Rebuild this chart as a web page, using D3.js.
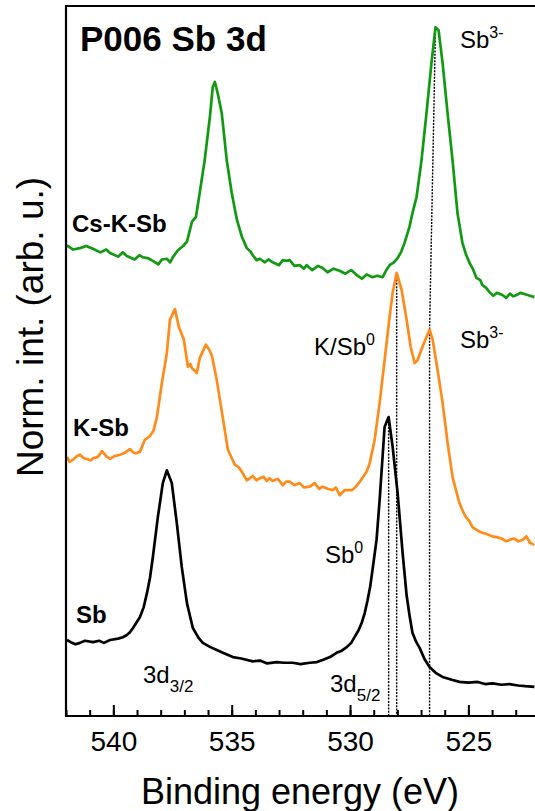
<!DOCTYPE html>
<html>
<head>
<meta charset="utf-8">
<script src="https://cdn.jsdelivr.net/npm/d3@7"></script>
<style>
  body { margin: 0; background: #fff; }
  svg { display: block; font-family: Arial, "Liberation Sans", sans-serif; }
</style>
</head>
<body>
<svg id="chart" width="535" height="811"></svg>
<script>
// Sb 3d spectra, binding energy (eV) vs normalized intensity (arb. u.), offset for clarity
const csKSb = [
  [541.96, 66.3], [541.7, 65.7], [541.41, 65.9], [541.15, 66.2], [540.86, 65.8], [540.55, 65.3],
  [540.3, 65.7], [540.14, 65.2], [539.8, 64.7], [539.6, 65.3], [539.43, 64.8], [539.1, 64.3],
  [538.9, 64.9], [538.75, 64.6], [538.55, 64.5], [538.33, 64.1], [538.1, 63.6], [537.95, 64.3],
  [537.74, 64.4], [537.6, 63.9], [537.49, 64.6], [537.27, 65.6], [537.05, 66.2], [536.89, 66.8],
  [536.68, 69.6], [536.51, 70.3], [536.35, 73.7], [536.14, 78.3], [535.92, 84.4], [535.8, 88.6],
  [535.71, 89.3], [535.59, 87.7], [535.42, 84.9], [535.21, 78.3], [535.0, 73.7], [534.78, 69.9],
  [534.57, 67.5], [534.36, 65.9], [534.2, 65.4], [534.11, 64.9], [533.95, 64.2], [533.81, 64.4],
  [533.6, 63.9], [533.45, 64.3], [533.27, 63.9], [533.0, 63.5], [532.84, 64.2], [532.68, 64.1],
  [532.55, 64.2], [532.35, 63.4], [532.13, 63.5], [531.95, 63.0], [531.83, 63.5], [531.6, 62.8],
  [531.35, 63.4], [531.16, 63.1], [530.95, 62.5], [530.7, 63.0], [530.44, 62.7], [530.2, 62.3],
  [529.95, 62.8], [529.72, 62.1], [529.5, 61.6], [529.3, 62.2], [529.05, 61.8], [528.85, 62.0],
  [528.62, 61.8], [528.45, 62.9], [528.33, 63.5], [528.15, 63.9], [527.99, 64.5], [527.85, 65.3],
  [527.7, 66.6], [527.49, 68.9], [527.35, 71.0], [527.19, 73.1], [526.98, 78.3], [526.77, 84.9],
  [526.56, 92.0], [526.39, 97.0], [526.26, 96.6], [526.09, 92.0], [525.88, 84.9], [525.67, 78.3],
  [525.46, 70.8], [525.25, 66.6], [525.1, 65.0], [524.95, 63.8], [524.8, 62.9], [524.66, 61.7],
  [524.5, 61.4], [524.41, 60.7], [524.25, 60.3], [524.11, 59.7], [523.95, 59.2], [523.8, 59.6],
  [523.56, 59.3], [523.4, 58.9], [523.25, 59.5], [523.1, 59.1], [522.97, 59.3], [522.8, 59.6],
  [522.6, 59.4], [522.4, 59.2], [522.21, 59.0]
];

const kSb = [
  [541.96, 36.5], [541.85, 35.8], [541.7, 36.1], [541.55, 36.6], [541.41, 36.8], [541.25, 36.3],
  [541.11, 36.2], [540.95, 36.0], [540.86, 36.3], [540.65, 36.5], [540.48, 37.3], [540.3, 36.6],
  [540.14, 36.2], [539.95, 36.6], [539.72, 36.8], [539.55, 37.0], [539.3, 37.6], [539.15, 37.1],
  [539.05, 37.0], [538.88, 37.2], [538.67, 38.9], [538.46, 39.4], [538.3, 40.2], [538.16, 42.1],
  [537.95, 46.9], [537.74, 51.1], [537.61, 55.8], [537.4, 57.3], [537.23, 54.8], [537.02, 53.0],
  [536.85, 49.2], [536.75, 49.6], [536.68, 49.0], [536.47, 48.3], [536.35, 50.4], [536.09, 52.3],
  [535.95, 51.6], [535.84, 50.8], [535.63, 47.3], [535.38, 42.1], [535.16, 37.5], [534.87, 35.4],
  [534.72, 35.1], [534.57, 34.4], [534.45, 33.7], [534.36, 33.2], [534.11, 33.8], [533.95, 33.2],
  [533.81, 33.5], [533.65, 33.7], [533.52, 33.1], [533.4, 33.5], [533.27, 33.1], [533.05, 33.4],
  [532.84, 32.5], [532.7, 33.0], [532.55, 33.0], [532.35, 32.5], [532.13, 32.8], [531.95, 32.2],
  [531.7, 32.3], [531.5, 32.8], [531.3, 32.0], [531.16, 32.3], [530.95, 32.0], [530.73, 31.8],
  [530.6, 32.2], [530.44, 31.1], [530.23, 31.8], [529.93, 31.8], [529.75, 32.3], [529.59, 33.0],
  [529.3, 34.4], [529.17, 35.6], [528.96, 38.9], [528.75, 44.1], [528.54, 50.1], [528.33, 56.2],
  [528.2, 59.6], [528.03, 62.4], [527.82, 60.0], [527.61, 55.8], [527.44, 52.0], [527.27, 49.7],
  [527.15, 50.1], [526.94, 52.0], [526.73, 53.7], [526.64, 54.4], [526.51, 53.0], [526.3, 48.7],
  [526.09, 44.1], [525.88, 38.5], [525.67, 33.7], [525.5, 31.5], [525.38, 30.0], [525.2, 28.6],
  [525.08, 27.9], [524.95, 27.4], [524.83, 26.6], [524.6, 26.1], [524.41, 25.8], [524.2, 25.6],
  [524.0, 25.3], [523.81, 25.2], [523.6, 25.0], [523.4, 24.6], [523.27, 24.8], [523.05, 25.0],
  [522.9, 24.6], [522.72, 24.8], [522.55, 25.3], [522.4, 24.4], [522.21, 24.1]
];

const sb = [
  [541.96, 10.7], [541.8, 10.4], [541.6, 10.1], [541.41, 10.3], [541.2, 10.6], [540.86, 10.4],
  [540.6, 10.6], [540.4, 10.3], [540.14, 10.7], [539.8, 10.9], [539.6, 11.1], [539.43, 11.4],
  [539.3, 11.8], [539.17, 12.4], [538.88, 13.9], [538.72, 15.3], [538.58, 17.3], [538.45, 19.5],
  [538.33, 22.4], [538.12, 28.0], [537.91, 32.8], [537.74, 34.6], [537.53, 32.8], [537.32, 27.2],
  [537.11, 21.0], [536.89, 15.9], [536.75, 13.9], [536.64, 12.4], [536.4, 11.0], [536.22, 10.3],
  [535.9, 9.7], [535.63, 9.3], [535.3, 8.8], [534.95, 8.3], [534.6, 8.1], [534.11, 7.7],
  [533.8, 7.8], [533.5, 7.4], [533.1, 7.6], [532.8, 7.5], [532.42, 7.5], [532.1, 7.3],
  [531.7, 7.5], [531.4, 7.6], [531.16, 7.9], [530.85, 8.3], [530.57, 8.9], [530.35, 9.2],
  [530.14, 9.7], [529.95, 10.3], [529.81, 11.1], [529.65, 12.0], [529.51, 13.1], [529.38, 14.5],
  [529.26, 16.3], [529.15, 18.2], [529.05, 20.6], [528.88, 24.8], [528.75, 30.4], [528.62, 36.8],
  [528.54, 40.7], [528.37, 42.1], [528.2, 37.9], [527.99, 31.4], [527.78, 23.0], [527.61, 17.0],
  [527.48, 14.0], [527.36, 11.7], [527.2, 10.4], [527.06, 9.6], [526.85, 8.0], [526.64, 6.9],
  [526.35, 6.0], [526.09, 5.5], [525.7, 5.1], [525.38, 4.8], [525.0, 4.7], [524.6, 4.8],
  [524.3, 4.5], [523.98, 4.6], [523.6, 4.4], [523.27, 4.5], [522.9, 4.3], [522.6, 4.2],
  [522.21, 4.1]
];

const seriesNames = ["Cs-K-Sb", "K-Sb", "Sb"];
const seriesColors = ["#129912", "#ff8c1a", "#000000"];
const seriesData = [csKSb, kSb, sb];

// peak guide lines (dotted): [energy, intensity] points
const guides = [
  [[526.39, 97.0], [526.64, 54.4], [526.64, 0]],
  [[528.03, 62.4], [528.03, 0]],
  [[528.37, 42.1], [528.37, 0]]
];

const majorTicks = [540, 535, 530, 525];

const svg = d3.select("#chart");
const mLeft = 66, mTop = 6, mBottom = 716;
const pxPerEv = 23.67;

const x = d3.scaleLinear().domain([542, 522]).range([mLeft, mLeft + 20 * pxPerEv]);
const y = d3.scaleLinear().domain([0, 100]).range([mBottom, mTop]);

svg.append("defs").append("clipPath").attr("id", "plot")
  .append("rect").attr("x", mLeft).attr("y", mTop).attr("width", 535 - mLeft).attr("height", mBottom - mTop);

const plot = svg.append("g").attr("clip-path", "url(#plot)");

// dotted guides
const guideLine = d3.line().x(d => x(d[0])).y(d => y(d[1]));
plot.selectAll(".guide")
  .data(guides)
  .join("path")
  .attr("class", "guide")
  .attr("d", guideLine)
  .attr("fill", "none")
  .attr("stroke", "#000")
  .attr("stroke-width", 1.4)
  .attr("stroke-dasharray", "2,1.3");

// spectra
const line = d3.line().x(d => x(d[0])).y(d => y(d[1]));
plot.selectAll(".spec")
  .data(seriesData)
  .join("path")
  .attr("class", "spec")
  .attr("d", line)
  .attr("fill", "none")
  .attr("stroke", (d, i) => seriesColors[i])
  .attr("stroke-width", 2.7)
  .attr("stroke-linejoin", "round");

// axes: minor ticks every 1 eV, major every 5 eV, pointing inward
svg.append("g")
  .attr("transform", `translate(0,${mBottom})`)
  .call(d3.axisBottom(x).tickValues(d3.range(522, 543, 1)).tickSize(-6).tickSizeOuter(0).tickFormat(""))
  .call(g => g.select(".domain").remove())
  .call(g => g.selectAll("line").attr("stroke-width", 2));

svg.append("g")
  .attr("transform", `translate(0,${mBottom})`)
  .call(d3.axisBottom(x).tickValues(majorTicks).tickSize(-11).tickSizeOuter(0).tickPadding(15).tickFormat(d3.format("d")))
  .call(g => g.select(".domain").remove())
  .call(g => g.selectAll("line").attr("stroke-width", 2))
  .call(g => g.selectAll("text").attr("font-size", "28px").attr("fill", "#000")
    .attr("font-family", "Arial, 'Liberation Sans', sans-serif"));

// frame (left, top, bottom)
svg.append("path")
  .attr("d", `M${mLeft},${mBottom}V${mTop}H540M${mLeft - 1},${mBottom}H540`)
  .attr("fill", "none")
  .attr("stroke", "#000")
  .attr("stroke-width", 2.2);

// axis titles
svg.append("text")
  .attr("x", 300).attr("y", 804)
  .attr("text-anchor", "middle")
  .attr("font-size", "36px")
  .text("Binding energy (eV)");

svg.append("text")
  .attr("transform", "translate(43,327) rotate(-90)")
  .attr("text-anchor", "middle")
  .attr("font-size", "37px")
  .text("Norm. int. (arb. u.)");

// panel title
svg.append("text")
  .attr("x", 80).attr("y", 51)
  .attr("font-size", "35px")
  .attr("font-weight", "bold")
  .text("P006 Sb 3d");

// series labels
const seriesLabelPos = [[72, 232], [73, 436], [76, 623]];
svg.selectAll(".slabel")
  .data(seriesNames)
  .join("text")
  .attr("class", "slabel")
  .attr("x", (d, i) => seriesLabelPos[i][0])
  .attr("y", (d, i) => seriesLabelPos[i][1])
  .attr("font-size", "24px")
  .attr("font-weight", "bold")
  .text(d => d);

// peak annotations with super/subscripts
const notes = [
  { x: 460, y: 48, base: "Sb", sup: "3-" },
  { x: 314, y: 355, base: "K/Sb", sup: "0" },
  { x: 460, y: 348, base: "Sb", sup: "3-" },
  { x: 325, y: 563, base: "Sb", sup: "0" },
  { x: 143, y: 683, base: "3d", sub: "3/2" },
  { x: 330, y: 692, base: "3d", sub: "5/2" }
];

notes.forEach(n => {
  const t = svg.append("text")
    .attr("x", n.x).attr("y", n.y)
    .attr("font-size", "24px");
  t.append("tspan").text(n.base);
  if (n.sup) t.append("tspan").attr("font-size", "16px").attr("dy", -10).text(n.sup);
  if (n.sub) t.append("tspan").attr("font-size", "17px").attr("dy", 9).text(n.sub);
});
</script>
</body>
</html>
